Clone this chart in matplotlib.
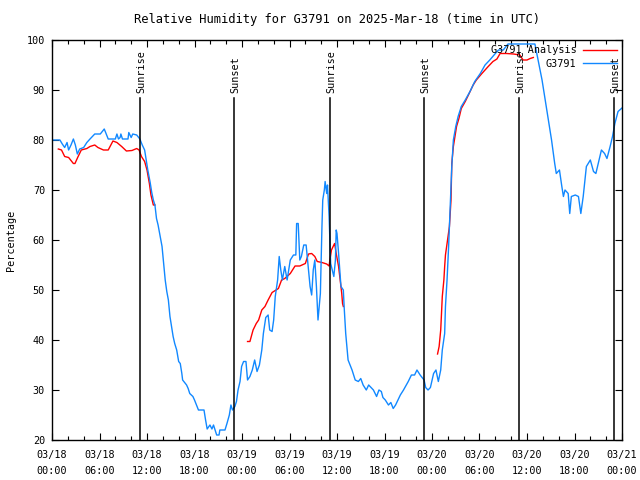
import matplotlib
matplotlib.use("Agg")
import matplotlib.pyplot as plt
import numpy as np

# hours since 03/18 00:00 UTC, relative humidity (%)
obs_hours = [0, 0.5, 1.0, 1.3, 1.6, 1.9, 2.1, 2.4, 2.7, 2.95, 3.2, 3.5, 4.0, 4.4, 4.8, 5.4, 6.1, 6.6, 7.1, 8.0,
             8.2, 8.4, 8.6, 8.7, 8.9, 9.6, 9.7, 10.0, 10.2, 10.7, 11.1, 11.4, 11.7, 11.9, 12.1, 12.4, 12.6, 12.8,
             13.0, 13.2, 13.4, 13.6, 13.9, 14.1, 14.3, 14.5, 14.7, 14.9, 15.1, 15.3, 15.5, 15.75, 16.0, 16.2,
             16.4, 16.5, 17.0, 17.2, 17.4, 17.8, 18.0, 18.5, 19.2, 19.4, 19.6, 19.95, 20.2, 20.4, 20.6, 20.8,
             21.1, 21.2, 21.85, 22.1, 22.4, 22.6, 22.8, 23.1, 23.3, 23.5, 23.75, 23.95, 24.2, 24.5, 24.7, 25.0,
             25.3, 25.6, 25.9, 26.2, 26.5, 26.7, 27.0, 27.3, 27.5, 27.8, 28.0, 28.2, 28.5, 28.7, 28.9, 29.1,
             29.4, 29.7, 30.1, 30.5, 30.8, 30.9, 31.1, 31.3, 31.5, 31.8, 32.1, 32.4, 32.6, 32.8, 33.0, 33.2,
             33.4, 33.6, 33.9, 34.1, 34.2, 34.4, 34.5, 34.7, 34.8, 35.0, 35.2, 35.4, 35.6, 35.8, 35.9, 36.0,
             36.2, 36.4, 36.5, 36.8, 36.9, 37.1, 37.4, 37.9, 38.3, 38.7, 39.0, 39.3, 39.7, 40.0, 40.3, 40.6,
             41.0, 41.3, 41.6, 41.8, 42.1, 42.5, 42.8, 43.1, 43.4, 43.7, 44.0, 44.4, 45.0, 45.4, 45.8, 46.1,
             46.5, 47.0, 47.2, 47.5, 47.8, 48.2, 48.5, 48.8, 49.1, 49.3, 49.6, 49.7, 49.9, 50.1, 50.3, 50.5,
             50.7, 51.0, 51.3, 51.7, 52.2, 52.8, 53.4, 54.1, 54.7, 55.3, 56.0, 56.4, 57.0, 57.6, 61.0, 61.4,
             61.9, 62.3, 62.7, 63.1, 63.5, 63.7, 64.1, 64.4, 64.6, 64.8, 65.2, 65.4, 65.6, 66.1, 66.5, 66.8,
             67.1, 67.5, 68.0, 68.4, 68.7, 69.0, 69.4, 69.8, 70.1, 70.5, 70.8, 71.1, 71.5, 72.0]
obs_rh = [80, 80, 80, 79.2, 78.5, 79.5, 78, 79, 80.2, 79, 77.2, 78.2, 78.5, 79.5, 80.2, 81.2, 81.2, 82.2, 80.2, 80.2,
          81.2, 80.2, 80.5, 81.2, 80.2, 80.2, 81.5, 80.5, 81.2, 81, 80.2, 79, 78, 76, 74, 71.5, 69.5, 68,
          67, 64.3, 63, 61.3, 58.7, 55.3, 52, 49.7, 48, 44.7, 42.7, 40.7, 39.3, 38, 35.7, 35.3,
          33.3, 32, 31, 30.3, 29.3, 28.7, 28, 26, 26, 24, 22.2, 23, 22.2, 23, 22, 21,
          21, 22, 22, 23.3, 25, 27, 26, 26.7, 27.7, 30, 31.7, 34.7, 35.7, 35.7, 32, 32.7,
          34, 36, 33.7, 35, 38, 41.3, 44.5, 45, 42, 41.7, 44, 48.7, 52, 56.7, 54, 52,
          54.7, 52, 56, 57, 57, 63.3, 63.3, 56, 56.7, 59, 59, 54, 50.7, 49, 54, 56,
          50.7, 44, 49.3, 62.7, 68, 70, 71.7, 69.3, 71, 64.7, 55.3, 54, 52.7, 56, 62, 61.3,
          57.3, 52.7, 50.7, 50, 46.7, 41.3, 36, 34, 32, 31.7, 32.3, 31, 30, 31, 30.5, 30,
          28.7, 30, 29.7, 28.5, 28, 27, 27.5, 26.3, 27, 28, 29, 30, 31.7, 33, 33, 34,
          33, 32, 30.5, 30, 30.5, 33.3, 34, 31.7, 34, 38, 41.3, 46.7, 52, 58.7, 66.7, 74.7,
          80, 82.7, 84.7, 86.7, 88, 89.7, 91.7, 93.3, 95, 96, 97.3, 98, 98, 99.2, 99.2, 96,
          92, 88, 84, 80, 75.3, 73.3, 74, 70.7, 68.7, 70, 69.3, 65.3, 68.7, 69, 68.7, 65.3,
          68.7, 74.7, 76, 73.7, 73.3, 75.3, 78, 77.3, 76.3, 78.7, 80.7, 83.3, 85.7, 86.4]

ana1_hours = [0.8, 1.2, 1.6, 2.1, 2.7, 2.9, 3.3, 3.7, 4.4, 4.8, 5.4, 5.8, 6.5, 7.1, 7.7, 8.2, 8.8, 9.4, 10.1,
              10.7, 11.0, 11.3, 11.7, 12.0, 12.3, 12.5, 12.8, 13.0]
ana1_rh = [78.2, 78, 76.7, 76.5, 75.3, 75.3, 76.7, 78, 78.3, 78.7, 79, 78.5, 78, 78, 79.8, 79.5, 78.7, 77.8, 77.9,
           78.3, 78, 76.7, 75.7, 74, 71.3, 69, 67, 67]
ana2_hours = [24.7, 25.0, 25.4, 25.8, 26.1, 26.5, 26.9, 27.3, 27.8, 28.2, 28.6, 29.0, 29.4, 30.1, 30.7, 31.3,
              32.0, 32.4, 32.8, 33.2, 33.5, 34.1, 34.7, 35.0, 35.1, 35.3, 35.6, 35.7, 35.9, 36.2, 36.4, 36.6,
              36.7, 36.8]
ana2_rh = [39.7, 39.7, 42, 43.3, 44, 46, 46.7, 48, 49.5, 49.9, 50.3, 52, 52.3, 53.3, 54.8, 54.8,
           55.3, 57.2, 57.3, 56.7, 55.7, 55.5, 55.2, 54.8, 56, 58, 59, 59.3, 57.3, 54.7, 52, 49.3,
           47.3, 46.7]
ana3_hours = [48.7, 48.9, 49.1, 49.2, 49.3, 49.5, 49.6, 49.7, 50.2, 50.4, 50.5, 50.7, 50.9, 51.1, 51.4, 51.7,
              52.2, 52.6, 53.2, 53.6, 54.3, 54.7, 55.1, 55.7, 56.2, 56.6, 57.4, 58.3, 59.1, 59.5, 60.0, 60.4,
              60.8]
ana3_rh = [37.2, 38.7, 42, 45.3, 48.7, 52, 54.7, 57, 62.7, 68, 75.3, 78.7, 80.7, 82.7, 84.3, 86.3,
           87.7, 89, 91, 92, 93.3, 94, 94.7, 95.7, 96.2, 97.3, 97.3, 97.2, 97, 96, 96, 96.3,
           96.5]

sunrise_hours = [11.1, 35.1, 59.05]
sunset_hours = [23.05, 47.05, 71.05]
tick_labels = ["03/18\n00:00", "03/18\n06:00", "03/18\n12:00", "03/18\n18:00",
               "03/19\n00:00", "03/19\n06:00", "03/19\n12:00", "03/19\n18:00",
               "03/20\n00:00", "03/20\n06:00", "03/20\n12:00", "03/20\n18:00", "03/21\n00:00"]

plt.rcParams['font.family'] = ['DejaVu Sans Mono']
plt.rcParams['font.size'] = 7.3

fig = plt.figure(figsize=(6.4, 4.8), dpi=100)
ax = fig.add_axes([52/640, 40/480, 570/640, 400/480])

# analysis segments (red)
ax.plot(ana1_hours, ana1_rh, color="#ff0000", lw=1.0, label="G3791 Analysis")
ax.plot(ana2_hours, ana2_rh, color="#ff0000", lw=1.0)
ax.plot(ana3_hours, ana3_rh, color="#ff0000", lw=1.0)
ax.plot(obs_hours, obs_rh, color="#1188ff", lw=1.0, label="G3791")

for h in sunrise_hours:
    ax.plot([h, h], [20, 88.4], color="black", lw=1.1)
    ax.text(h + 0.15, 89.3, "Sunrise", rotation=90, ha="center", va="bottom")
for h in sunset_hours:
    ax.plot([h, h], [20, 88.4], color="black", lw=1.1)
    ax.text(h + 0.15, 89.3, "Sunset", rotation=90, ha="center", va="bottom")

ax.set_xlim(0, 72)
ax.set_ylim(20, 100)
ax.set_xticks(np.arange(0, 73, 6))
ax.set_xticklabels(tick_labels, linespacing=1.75)
ax.set_xticks(np.arange(0, 73, 2), minor=True)
ax.set_yticks(np.arange(20, 101, 10))
ax.tick_params(which="both", direction="in", top=True, right=True, width=0.8, colors="black")
ax.tick_params(which="major", length=5)
ax.tick_params(axis="x", which="major", pad=7)
ax.tick_params(axis="y", which="major", pad=5)
ax.tick_params(which="minor", length=3)
for s in ax.spines.values():
    s.set_linewidth(1.0)

ax.set_ylabel("Percentage", labelpad=8)
ax.set_title("Relative Humidity for G3791 on 2025-Mar-18 (time in UTC)", pad=12)

ax.legend(loc="upper right", frameon=False, markerfirst=False, handlelength=3.3,
          borderaxespad=0.3, labelspacing=0.35, handletextpad=0.7, borderpad=0.2)

plt.savefig("out.png", dpi=100)
